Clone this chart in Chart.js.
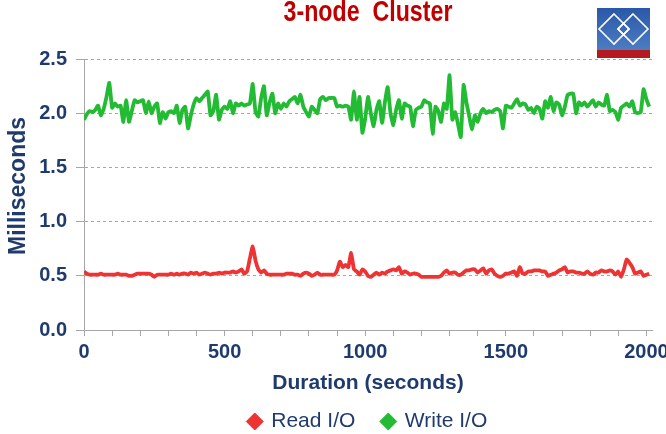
<!DOCTYPE html>
<html>
<head>
<meta charset="utf-8">
<script src="https://cdn.jsdelivr.net/npm/chart.js@4/dist/chart.umd.min.js"></script>
<style>
  html, body { margin: 0; padding: 0; background: #fff; }
  #wrap { width: 666px; height: 434px; }
</style>
</head>
<body>
<div id="wrap"><canvas id="ioChart" width="666" height="434"></canvas></div>
<script>
// sample interval of the log (seconds)
const SAMPLE_SEC = 10;

const seriesNames = ["Read I/O", "Write I/O"];

// latency in ms, one value per 10 s sample (0 .. 2010 s)
const readIO = [
    0.54, 0.52, 0.51, 0.51, 0.51, 0.51, 0.52, 0.51, 0.51, 0.51,
    0.51, 0.51, 0.52, 0.51, 0.51, 0.51, 0.50, 0.50, 0.51, 0.52,
    0.52, 0.52, 0.52, 0.52, 0.51, 0.49, 0.51, 0.51, 0.51, 0.51,
    0.51, 0.52, 0.51, 0.52, 0.51, 0.52, 0.52, 0.51, 0.53, 0.52,
    0.53, 0.51, 0.52, 0.53, 0.52, 0.51, 0.52, 0.52, 0.53, 0.52,
    0.53, 0.53, 0.53, 0.54, 0.53, 0.54, 0.56, 0.52, 0.54, 0.66,
    0.77, 0.64, 0.56, 0.53, 0.55, 0.52, 0.51, 0.51, 0.51, 0.51,
    0.51, 0.51, 0.52, 0.52, 0.52, 0.51, 0.51, 0.50, 0.52, 0.53,
    0.52, 0.50, 0.51, 0.53, 0.51, 0.51, 0.51, 0.51, 0.51, 0.51,
    0.55, 0.63, 0.58, 0.60, 0.58, 0.71, 0.56, 0.54, 0.51, 0.56,
    0.54, 0.50, 0.49, 0.51, 0.53, 0.51, 0.53, 0.52, 0.54, 0.55,
    0.56, 0.55, 0.58, 0.52, 0.54, 0.53, 0.51, 0.52, 0.52, 0.51,
    0.49, 0.49, 0.49, 0.49, 0.49, 0.49, 0.49, 0.50, 0.53, 0.55,
    0.52, 0.53, 0.53, 0.51, 0.51, 0.53, 0.55, 0.55, 0.56, 0.56,
    0.53, 0.55, 0.57, 0.52, 0.55, 0.56, 0.52, 0.50, 0.49, 0.50,
    0.52, 0.52, 0.53, 0.54, 0.50, 0.58, 0.52, 0.52, 0.54, 0.54,
    0.55, 0.55, 0.55, 0.54, 0.54, 0.50, 0.51, 0.52, 0.53, 0.55,
    0.56, 0.58, 0.53, 0.54, 0.54, 0.53, 0.53, 0.52, 0.52, 0.54,
    0.52, 0.51, 0.53, 0.53, 0.55, 0.54, 0.54, 0.55, 0.54, 0.51,
    0.54, 0.49, 0.56, 0.65, 0.62, 0.58, 0.52, 0.53, 0.54, 0.50,
    0.51, 0.52
];

const writeIO = [
    1.94, 1.99, 2.02, 2.01, 2.03, 2.07, 1.98, 2.04, 2.15, 2.28,
    2.05, 2.09, 2.06, 2.07, 1.92, 2.12, 1.92, 2.02, 2.12, 2.10,
    2.11, 2.12, 2.00, 2.11, 2.00, 2.06, 2.09, 1.91, 2.01, 1.95,
    2.01, 2.02, 2.00, 2.07, 1.91, 2.03, 2.06, 1.86, 1.98, 2.08,
    2.14, 2.11, 2.14, 2.17, 2.20, 1.98, 2.02, 2.17, 1.94, 2.03,
    2.06, 2.04, 2.11, 2.00, 2.09, 2.07, 2.09, 2.07, 2.08, 2.09,
    2.27, 2.01, 1.97, 2.14, 2.25, 1.98, 2.10, 2.18, 2.00, 2.09,
    2.04, 2.09, 2.06, 2.11, 2.13, 2.15, 2.09, 2.17, 2.06, 2.01,
    1.97, 2.06, 2.03, 2.00, 2.13, 2.15, 2.12, 2.14, 2.14, 2.14,
    2.06, 2.07, 2.06, 2.07, 2.06, 1.94, 2.20, 1.94, 2.15, 1.82,
    1.95, 2.15, 2.00, 1.88, 2.03, 2.11, 1.91, 2.10, 2.24, 2.00,
    1.89, 2.03, 2.12, 1.95, 2.09, 2.07, 2.06, 1.88, 2.03, 2.05,
    2.06, 2.12, 2.10, 2.09, 1.81, 2.06, 2.02, 1.92, 2.09, 2.04,
    2.35, 1.94, 2.01, 1.90, 1.78, 2.26, 2.10, 1.97, 1.85, 1.98,
    1.92, 2.00, 2.04, 2.00, 2.02, 2.01, 2.03, 2.04, 2.02, 1.86,
    2.07, 2.06, 2.05, 2.09, 2.13, 2.07, 2.09, 2.08, 2.03, 2.05,
    2.00, 2.06, 2.04, 1.95, 2.11, 2.05, 2.15, 2.02, 2.10, 2.08,
    1.98, 2.06, 2.17, 2.18, 2.18, 2.00, 2.10, 2.07, 2.10, 2.06,
    2.09, 2.12, 2.06, 2.10, 2.08, 2.07, 2.17, 2.02, 2.03, 2.01,
    1.94, 2.05, 2.07, 2.09, 2.06, 2.11, 2.01, 2.00, 2.01, 2.22,
    2.13, 2.06
];

// x axis: minor tick every 100 s, label every 500 s
const xTicks = [0, 100, 200, 300, 400, 500, 600, 700, 800, 900, 1000,
    1100, 1200, 1300, 1400, 1500, 1600, 1700, 1800, 1900, 2000];
const xLabelEvery = 500;
const yTicks = [0, 0.5, 1.0, 1.5, 2.0, 2.5];

const NAVY = "#1F3B6E";
const READ_COLOR = "#EE3333";
const WRITE_COLOR = "#22BB33";

function toPoints(values) {
    return values.map((v, i) => ({ x: i * SAMPLE_SEC, y: v }));
}

// title (partly off the top edge), y axis caption and the corner logo
const decorPlugin = {
    id: "decor",
    afterDraw(chart) {
        const ctx = chart.ctx;
        const area = chart.chartArea;
        ctx.save();
        ctx.fillStyle = "#C00000";
        ctx.font = "bold 29px 'Liberation Sans', sans-serif";
        ctx.textAlign = "center";
        ctx.textBaseline = "alphabetic";
        // the original title font is a condensed face: squeeze it
        ctx.translate((area.left + area.right) / 2, 21);
        ctx.scale(0.8, 1);
        ctx.fillText("3-node  Cluster", 0, 0);
        ctx.restore();

        // y axis caption sits a little above the middle of the plot
        ctx.save();
        ctx.fillStyle = NAVY;
        ctx.font = "bold 23px 'Liberation Sans', sans-serif";
        ctx.textAlign = "center";
        ctx.textBaseline = "middle";
        ctx.translate(19, 186);
        ctx.rotate(-Math.PI / 2);
        ctx.fillText("Milliseconds", 0, 0);
        ctx.restore();

        ctx.save();
        // logo box
        const lx = 597, ly = 8, lw = 53, lh = 42;
        const grad = ctx.createLinearGradient(0, ly, 0, ly + lh);
        grad.addColorStop(0, "#2A58A8");
        grad.addColorStop(1, "#4C7DC2");
        ctx.fillStyle = grad;
        ctx.fillRect(lx, ly, lw, lh);
        ctx.fillStyle = "#B3191E";
        ctx.fillRect(lx, ly + lh, lw, 8);

        ctx.strokeStyle = "#fff";
        ctx.lineWidth = 1.6;
        const diamond = (cx, cy, r) => {
            ctx.beginPath();
            ctx.moveTo(cx, cy - r);
            ctx.lineTo(cx + r, cy);
            ctx.lineTo(cx, cy + r);
            ctx.lineTo(cx - r, cy);
            ctx.closePath();
            ctx.stroke();
        };
        const cy = ly + lh / 2;
        diamond(lx + 17, cy, 15);
        diamond(lx + 36, cy, 15);
        diamond(lx + 26.5, cy, 5.5);
        ctx.restore();
    }
};

function renderChart() {
    const ctx = document.getElementById("ioChart").getContext("2d");
    new Chart(ctx, {
        type: "line",
        data: {
            datasets: [{
                label: seriesNames[0],
                data: toPoints(readIO),
                borderColor: READ_COLOR,
                backgroundColor: READ_COLOR,
                borderWidth: 3.8,
                pointRadius: 0,
                tension: 0.15,
                borderJoinStyle: "round"
            }, {
                label: seriesNames[1],
                data: toPoints(writeIO),
                borderColor: WRITE_COLOR,
                backgroundColor: WRITE_COLOR,
                borderWidth: 3.8,
                pointRadius: 0,
                tension: 0.15,
                borderJoinStyle: "round"
            }]
        },
        options: {
            responsive: false,
            animation: false,
            layout: { padding: { top: 59, right: 14, left: 0, bottom: -8 } },
            scales: {
                x: {
                    type: "linear",
                    min: 0,
                    max: 2020,
                    afterBuildTicks: scale => { scale.ticks = xTicks.map(v => ({ value: v })); },
                    afterFit: scale => {
                        scale.height = 54;
                        scale.paddingRight = 0;
                        scale.paddingLeft = 0;
                    },
                    border: { display: true, color: "#A6A6A6", width: 1 },
                    grid: { drawOnChartArea: false, drawTicks: true, tickLength: 6, color: "#A6A6A6" },
                    ticks: {
                        autoSkip: false,
                        maxRotation: 0,
                        padding: 4,
                        color: NAVY,
                        font: { family: "'Liberation Sans', sans-serif", size: 20, weight: "bold" },
                        callback: v => (v % xLabelEvery === 0 ? String(v) : "")
                    },
                    title: {
                        display: true,
                        text: "Duration (seconds)",
                        color: NAVY,
                        padding: { top: 0, bottom: -12 },
                        font: { family: "'Liberation Sans', sans-serif", size: 21, weight: "bold" }
                    }
                },
                y: {
                    min: 0,
                    max: 2.5,
                    afterBuildTicks: scale => { scale.ticks = yTicks.map(v => ({ value: v })); },
                    afterFit: scale => { scale.width = 84; },
                    border: { display: true, color: "#A6A6A6", width: 1, dash: [3, 3] },
                    grid: { color: "#A6A6A6", tickLength: 8, tickBorderDash: [] },
                    ticks: {
                        padding: 9,
                        color: NAVY,
                        font: { family: "'Liberation Sans', sans-serif", size: 20, weight: "bold" },
                        callback: v => v.toFixed(1)
                    },
                    title: { display: false }
                }
            },
            plugins: {
                legend: {
                    position: "bottom",
                    fullSize: false,
                    labels: {
                        usePointStyle: true,
                        pointStyle: "rectRot",
                        boxWidth: 12,
                        boxHeight: 12,
                        padding: 27,
                        color: NAVY,
                        font: { family: "'Liberation Sans', sans-serif", size: 21 },
                        generateLabels: chart => {
                            const items = Chart.defaults.plugins.legend.labels.generateLabels(chart);
                            items.forEach(it => { it.lineWidth = 1; });
                            return items;
                        }
                    }
                },
                tooltip: { enabled: false }
            }
        },
        plugins: [decorPlugin]
    });
}

document.addEventListener("DOMContentLoaded", renderChart);
</script>
</body>
</html>
